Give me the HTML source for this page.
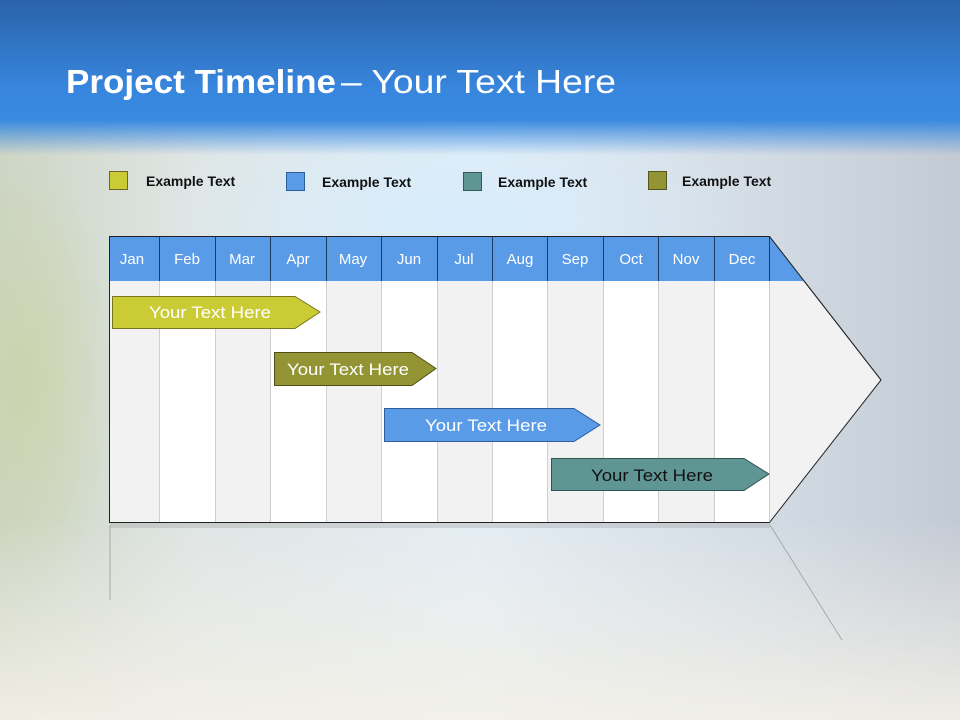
<!DOCTYPE html>
<html><head><meta charset="utf-8"><style>
html,body{margin:0;padding:0;width:960px;height:720px;overflow:hidden}
svg{display:block}
</style></head><body>
<svg width="960" height="720" viewBox="0 0 960 720" xmlns="http://www.w3.org/2000/svg" font-family="Liberation Sans, sans-serif">
<defs>
<linearGradient id="top" x1="0" y1="0" x2="0" y2="1">
<stop offset="0" stop-color="#2a63aa"/><stop offset="0.75" stop-color="#3886de"/><stop offset="1" stop-color="#3a8ae0"/>
</linearGradient>
<linearGradient id="fade" x1="0" y1="0" x2="0" y2="1">
<stop offset="0" stop-color="#3a8ae0"/><stop offset="1" stop-color="#3a8ae0" stop-opacity="0"/>
</linearGradient>
<linearGradient id="bgh" x1="0" y1="0" x2="1" y2="0">
<stop offset="0" stop-color="#cdd5c4"/><stop offset="0.2" stop-color="#dfe5e4"/><stop offset="0.5" stop-color="#e4edf4"/><stop offset="0.8" stop-color="#d2dbe4"/><stop offset="1" stop-color="#c3cad4"/>
</linearGradient>
<radialGradient id="sky" cx="0.5" cy="0.5" r="0.5">
<stop offset="0" stop-color="#d6ecfc" stop-opacity="0.95"/><stop offset="1" stop-color="#d6ecfc" stop-opacity="0"/>
</radialGradient>
<radialGradient id="grn" cx="0.5" cy="0.5" r="0.5">
<stop offset="0" stop-color="#c7d29a" stop-opacity="0.6"/><stop offset="1" stop-color="#c7d29a" stop-opacity="0"/>
</radialGradient>
<linearGradient id="bot" x1="0" y1="0" x2="0" y2="1">
<stop offset="0" stop-color="#f3f0e8" stop-opacity="0"/><stop offset="1" stop-color="#f3f0e8" stop-opacity="0.9"/>
</linearGradient>
</defs>
<rect width="960" height="720" fill="url(#bgh)"/>
<ellipse cx="450" cy="220" rx="300" ry="140" fill="url(#sky)"/>
<ellipse cx="30" cy="380" rx="90" ry="220" fill="url(#grn)"/>
<rect x="0" y="520" width="960" height="200" fill="url(#bot)"/>
<rect width="960" height="120" fill="url(#top)"/>
<rect y="120" width="960" height="35" fill="url(#fade)"/>
<text x="66" y="93" font-size="33" fill="#fff" font-weight="bold" textLength="270" lengthAdjust="spacingAndGlyphs">Project Timeline</text>
<text x="341" y="93" font-size="33" fill="#fff" textLength="275" lengthAdjust="spacingAndGlyphs">– Your Text Here</text>
<g font-size="14" font-weight="bold" fill="#111">
<rect x="109.5" y="171.5" width="18" height="18" fill="#cbcb35" stroke="#6a6a20"/>
<text x="146" y="186">Example Text</text>
<rect x="286.5" y="172.5" width="18" height="18" fill="#5a9be8" stroke="#2c5e9c"/>
<text x="322" y="187">Example Text</text>
<rect x="463.5" y="172.5" width="18" height="18" fill="#5f9694" stroke="#345a58"/>
<text x="498" y="187">Example Text</text>
<rect x="648.5" y="171.5" width="18" height="18" fill="#939534" stroke="#555520"/>
<text x="682" y="186">Example Text</text>
</g>
<line x1="110" y1="525" x2="110" y2="600" stroke="#777" opacity="0.5"/>
<line x1="770" y1="525" x2="842" y2="640" stroke="#777" opacity="0.5"/>
<rect x="110" y="522" width="660" height="6" fill="#999" opacity="0.3"/>
<polygon points="109.5,236.5 769.5,236.5 881,380 769.5,522.5 109.5,522.5" fill="#f2f2f2" stroke="#222"/>
<g fill="#ffffff">
<rect x="160" y="281" width="55" height="241"/>
<rect x="271" y="281" width="55" height="241"/>
<rect x="382" y="281" width="55" height="241"/>
<rect x="493" y="281" width="54" height="241"/>
<rect x="604" y="281" width="54" height="241"/>
<rect x="715" y="281" width="54" height="241"/>
</g>
<g stroke="#cfcfcf">
<line x1="159.5" y1="281" x2="159.5" y2="522"/><line x1="215.5" y1="281" x2="215.5" y2="522"/><line x1="270.5" y1="281" x2="270.5" y2="522"/><line x1="326.5" y1="281" x2="326.5" y2="522"/><line x1="381.5" y1="281" x2="381.5" y2="522"/><line x1="437.5" y1="281" x2="437.5" y2="522"/><line x1="492.5" y1="281" x2="492.5" y2="522"/><line x1="547.5" y1="281" x2="547.5" y2="522"/><line x1="603.5" y1="281" x2="603.5" y2="522"/><line x1="658.5" y1="281" x2="658.5" y2="522"/><line x1="714.5" y1="281" x2="714.5" y2="522"/><line x1="769.5" y1="281" x2="769.5" y2="522"/>
</g>
<polygon points="110,237 769.5,237 804.5,281 110,281" fill="#5a9be8"/>
<g stroke="#1c3d66">
<line x1="159.5" y1="237" x2="159.5" y2="281"/><line x1="215.5" y1="237" x2="215.5" y2="281"/><line x1="270.5" y1="237" x2="270.5" y2="281"/><line x1="326.5" y1="237" x2="326.5" y2="281"/><line x1="381.5" y1="237" x2="381.5" y2="281"/><line x1="437.5" y1="237" x2="437.5" y2="281"/><line x1="492.5" y1="237" x2="492.5" y2="281"/><line x1="547.5" y1="237" x2="547.5" y2="281"/><line x1="603.5" y1="237" x2="603.5" y2="281"/><line x1="658.5" y1="237" x2="658.5" y2="281"/><line x1="714.5" y1="237" x2="714.5" y2="281"/><line x1="769.5" y1="237" x2="769.5" y2="281"/>
</g>
<line x1="769.5" y1="236.5" x2="881" y2="380" stroke="#222"/>
<g font-size="15" fill="#fff" text-anchor="middle">
<text x="132" y="264">Jan</text><text x="187" y="264">Feb</text><text x="242" y="264">Mar</text><text x="298" y="264">Apr</text><text x="353" y="264">May</text><text x="409" y="264">Jun</text><text x="464" y="264">Jul</text><text x="520" y="264">Aug</text><text x="575" y="264">Sep</text><text x="631" y="264">Oct</text><text x="686" y="264">Nov</text><text x="742" y="264">Dec</text>
</g>
<g font-size="17" text-anchor="middle">
<polygon points="112.5,296.5 295,296.5 320,312 295,328.5 112.5,328.5" fill="#cbcb35" stroke="#77771e"/>
<text x="210" y="318" fill="#fff" textLength="122" lengthAdjust="spacingAndGlyphs">Your  Text Here</text>
<polygon points="274.5,352.5 412,352.5 436,368.5 412,385.5 274.5,385.5" fill="#939534" stroke="#4f5018"/>
<text x="348" y="375" fill="#fff" textLength="122" lengthAdjust="spacingAndGlyphs">Your  Text Here</text>
<polygon points="384.5,408.5 574,408.5 600,425 574,441.5 384.5,441.5" fill="#5a9be8" stroke="#2c5e9c"/>
<text x="486" y="431" fill="#fff" textLength="122" lengthAdjust="spacingAndGlyphs">Your  Text Here</text>
<polygon points="551.5,458.5 744,458.5 769,474 744,490.5 551.5,490.5" fill="#5f9694" stroke="#2f5452"/>
<text x="652" y="481" fill="#111" textLength="122" lengthAdjust="spacingAndGlyphs">Your  Text Here</text>
</g>
</svg>
</body></html>
